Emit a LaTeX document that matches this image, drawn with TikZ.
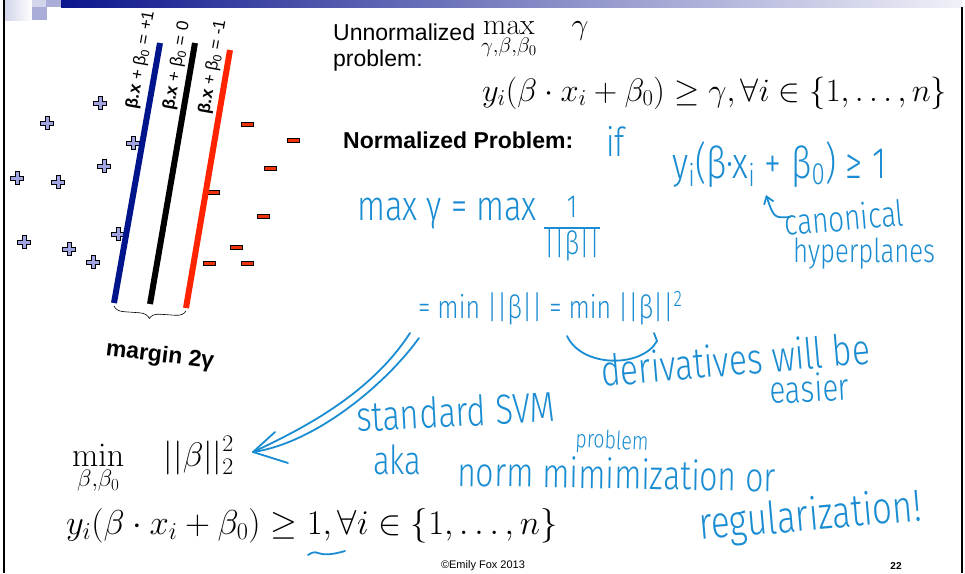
\RequirePackage{fix-cm}
\documentclass[tikz,border=0pt]{standalone}
\usepackage[no-math]{fontspec}
\usepackage{amsmath}
\setmainfont{Liberation Sans}
\newfontfamily\handfont[FakeStretch=0.78]{Fira Sans Light}
\usetikzlibrary{arrows.meta,decorations.pathreplacing}

\definecolor{hdrblue}{RGB}{12,22,140}
\definecolor{planeblue}{RGB}{0,20,140}
\definecolor{planered}{RGB}{255,35,0}
\definecolor{plusfill}{RGB}{160,165,225}
\definecolor{minusfill}{RGB}{240,50,10}
\definecolor{ink}{RGB}{25,140,210}

\begin{document}
\begin{tikzpicture}[x=1pt, y=-1pt,
    hplane/.style = {line width=6pt},
    posmark/.style = {fill=plusfill, draw=black, line width=0.6pt},
    negmark/.style = {fill=minusfill, draw=black, line width=0.6pt},
    lbl/.style = {rotate=80, inner sep=0pt, font=\fontsize{17}{20}\selectfont},
    slide/.style = {anchor=base west, inner sep=0pt, font=\fontsize{23}{27}\selectfont},
    eq/.style = {anchor=base west, inner sep=0pt, font=\fontsize{32.5}{36}\selectfont},
    hand/.style = {anchor=base west, inner sep=0pt, text=ink, font=\handfont\fontsize{40}{44}\selectfont},
    inkline/.style = {draw=ink, line width=1.8pt, line cap=round, line join=round}
]
\useasboundingbox (0,0) rectangle (965,573);
\fill[white] (0,0) rectangle (965,573);

% slide frame
\shade[left color=hdrblue, right color=hdrblue!6] (61,0) rectangle (962,7);
\shade[left color=hdrblue!18, right color=white] (5,0) rectangle (32,20);
\fill[hdrblue!18] (32,0) rectangle (46,7);
\fill[hdrblue!35] (46,0) rectangle (61,7);
\fill[hdrblue!35] (32,7) rectangle (47,20);
\draw[line width=1.5pt] (4,0) -- (4,573);
\draw[line width=1.5pt] (962,7) -- (962,573);

% data points
\foreach \px/\py in {100/103, 47/123, 133/143, 104/166, 17/178, 58/182, 118/234, 24/242, 69/249, 93/262}
  \filldraw[posmark] (\px,\py) ++(-6.5,-1.8) -- ++(4.7,0) -- ++(0,-4.7) -- ++(3.6,0) -- ++(0,4.7)
    -- ++(4.7,0) -- ++(0,3.6) -- ++(-4.7,0) -- ++(0,4.7) -- ++(-3.6,0) -- ++(0,-4.7) -- ++(-4.7,0) -- cycle;
\foreach \px/\py in {247/124, 293/140, 270/168, 213/192, 263/216, 236/247, 209/263, 247/263}
  \filldraw[negmark] (\px-6,\py-2) rectangle (\px+6,\py+2);

% hyperplanes
\coordinate (bt) at (160,43);
\coordinate (bb) at (114,303);
\coordinate (kt) at (195,43);
\coordinate (kb) at (150,304);
\coordinate (rt) at (230,50);
\coordinate (rb) at (186,308);
\draw[hplane, planeblue] (bt) -- (bb);
\draw[hplane, black] (kt) -- (kb);
\draw[hplane, planered] (rt) -- (rb);

\node[lbl] (lblp) at (141,60) {{\bfseries β.x} + β\textsubscript{0} = +1};
\node[lbl] (lblz) at (177,66) {{\bfseries β.x} + β\textsubscript{0} = 0};
\node[lbl] (lbln) at (213,67) {{\bfseries β.x} + β\textsubscript{0} = -1};

\draw[decorate, decoration={brace, amplitude=10pt, mirror}, line width=0.6pt]
  ([yshift=-3pt]bb) -- ([yshift=-3pt]rb);
\node[rotate=-7, font=\bfseries\fontsize{23}{27}\selectfont] (margin) at (160,356) {margin 2γ};

% printed problems
\node[slide] (unnorm) at (333,40.5) {Unnormalized};
\node[slide] (probl) at (333,66.5) {problem:};
\node[eq, font=\fontsize{30}{34}\selectfont] (maxobj) at (481,34) {$\displaystyle\max_{\gamma,\beta,\beta_0}\quad\gamma$};
\node[eq] (cons) at (482,101) {$y_i(\beta\cdot x_i+\beta_0)\geq\gamma,\forall i\in\{1,\ldots,n\}$};
\node[slide, font=\bfseries\fontsize{23}{27}\selectfont] (normp) at (343,148) {Normalized Problem:};

\node[eq, font=\fontsize{34}{38}\selectfont] (minobj) at (72,466) {$\displaystyle\min_{\beta,\beta_0}\quad||\beta||_2^2$};
\node[eq, font=\fontsize{34.6}{38}\selectfont] (cons2) at (66,534) {$y_i(\beta\cdot x_i+\beta_0)\geq 1,\forall i\in\{1,\ldots,n\}$};

\node[font=\fontsize{11}{13}\selectfont] (copy) at (483,566) {©Emily Fox 2013};
\node[font=\bfseries\fontsize{10}{12}\selectfont] (pnum) at (896,566) {22};

% handwritten notes
\node[hand] (hif) at (606,156) {if};
\node[hand, font=\handfont\fontsize{44}{48}\selectfont] (hcond) at (672,178) {y\textsubscript{i}(β·x\textsubscript{i} + β\textsubscript{0}) ≥ 1};
\node[hand, rotate=5, font=\handfont\fontsize{36}{40}\selectfont] (hcan) at (785,236) {canonical};
\node[hand, font=\handfont\fontsize{33}{36}\selectfont] (hhyp) at (793,262) {hyperplanes};
\node[hand, font=\handfont\fontsize{42}{46}\selectfont] (hmax) at (357,220) {max γ = max};
\node[hand, anchor=center, font=\handfont\fontsize{32}{34}\selectfont] (hfrac) at (572,229)
  {\setlength{\arrayrulewidth}{1.6pt}\begin{tabular}{@{}c@{}}1\\\hline ||β||\end{tabular}};
\node[hand, font=\handfont\fontsize{32}{36}\selectfont] (hmin) at (418,318) {= min ||β|| = min ||β||\textsuperscript{2}};
\node[hand, rotate=5, font=\handfont\fontsize{43}{48}\selectfont] (hder) at (602,387) {derivatives will be};
\node[hand, rotate=3, font=\handfont\fontsize{38}{42}\selectfont] (heas) at (770,404) {easier};
\node[hand, rotate=3, font=\handfont\fontsize{42}{46}\selectfont] (hstd) at (357,432) {standard SVM};
\node[hand, rotate=-3, font=\handfont\fontsize{25}{28}\selectfont] (hprb) at (575,447) {problem};
\node[hand] (haka) at (373,474) {aka};
\node[hand, rotate=-1, font=\handfont\fontsize{41}{46}\selectfont] (hnrm) at (457,486) {norm mimimization or};
\node[hand, rotate=5, font=\handfont\fontsize{45}{48}\selectfont] (hreg) at (700,540) {regularization!};

% handwritten strokes
\coordinate (cantail) at (790,217);
\coordinate (cantip) at (766,195);
\draw[inkline, -{Straight Barb[length=7pt, width=10pt]}] (cantail) .. controls (774,218) .. (cantip);

\coordinate (easea) at (567,336);
\coordinate (easeb) at (657,341);
\draw[inkline] (easea) .. controls (582,368) and (642,368) .. (easeb) -- (654,333);

\coordinate (tip) at (253,452);
\coordinate (shafta) at (410,333);
\coordinate (shaftb) at (419,338);
\draw[inkline] (tip) .. controls (300,430) and (370,395) .. (shafta);
\draw[inkline] (tip) .. controls (315,443) and (385,385) .. (shaftb);
\draw[inkline] (275,432) -- (tip) -- (288,463);

\coordinate (unda) at (308,555);
\coordinate (undb) at (345,551);
\draw[inkline] (unda) .. controls (320,547) and (314,560) .. (undb);
\end{tikzpicture}
\end{document}
